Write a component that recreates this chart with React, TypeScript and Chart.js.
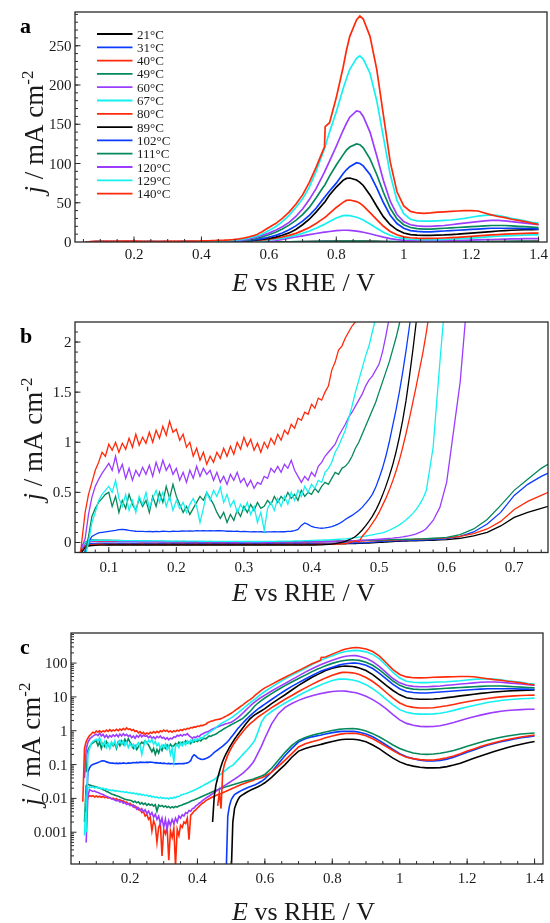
import React, { useEffect, useRef } from "react";
import { Chart, registerables } from "chart.js";

Chart.register(...registerables);

// ---------- legend / series ----------
const LABELS = ["21°C", "31°C", "40°C", "49°C", "60°C", "67°C", "80°C", "89°C", "102°C", "111°C", "120°C", "129°C", "140°C"];
const BLACK = "#000000", BLUE = "#0a3cff", RED = "#ff2a0a", GREEN = "#05885a", PURPLE = "#9b3cff", CYAN = "#16f0f0";
const COLORS = [BLACK, BLUE, RED, GREEN, PURPLE, CYAN, RED, BLACK, BLUE, GREEN, PURPLE, CYAN, RED];

// ---------- potential grids (V vs RHE) ----------
const E_FINE = [
  0.055, 0.06, 0.065, 0.07, 0.075, 0.08, 0.085, 0.09, 0.095, 0.1,
  0.105, 0.11, 0.115, 0.12, 0.125, 0.13, 0.135, 0.14, 0.145, 0.15,
  0.155, 0.16, 0.165, 0.17, 0.175, 0.18, 0.185, 0.19, 0.195, 0.2,
  0.205, 0.21, 0.215, 0.22, 0.225, 0.23, 0.235, 0.24, 0.245, 0.25,
  0.255, 0.26, 0.265, 0.27, 0.275, 0.28, 0.285, 0.29, 0.295, 0.3,
  0.305, 0.31, 0.315, 0.32, 0.325, 0.33, 0.335, 0.34, 0.345, 0.35,
  0.355, 0.36, 0.365, 0.37, 0.375, 0.38, 0.385, 0.39, 0.395, 0.4,
  0.405, 0.41, 0.415, 0.42, 0.425, 0.43, 0.435, 0.44, 0.445, 0.45,
  0.455, 0.46, 0.465, 0.47, 0.475, 0.48, 0.485, 0.49, 0.495, 0.5,
  0.505, 0.51, 0.515, 0.52, 0.525, 0.53, 0.535, 0.54, 0.545, 0.55,
  0.555, 0.56, 0.565,
];
const E_HIGH = [
  0.57, 0.58, 0.59, 0.6, 0.62, 0.64, 0.66, 0.68, 0.7, 0.72, 0.74, 0.76, 0.765, 0.767,
  0.78, 0.8, 0.82, 0.83, 0.84, 0.86, 0.87, 0.88, 0.9, 0.92, 0.94, 0.96, 0.98, 1,
  1.02, 1.04, 1.06, 1.08, 1.1, 1.12, 1.14, 1.16, 1.18, 1.2, 1.22, 1.24, 1.26, 1.28, 1.3, 1.32, 1.34, 1.36, 1.38, 1.4,
];

// ---------- current densities j / mA cm-2 ----------
const j21Low = [
  -0.2, -0.09, -0.04, -0.025, -0.02, -0.018, -0.016, -0.015, -0.015, -0.015,
  -0.015, -0.015, -0.015, -0.015, -0.015, -0.015, -0.015, -0.015, -0.015, -0.015,
  -0.015, -0.015, -0.015, -0.015, -0.015, -0.015, -0.015, -0.015, -0.015, -0.015,
  -0.015, -0.015, -0.015, -0.015, -0.015, -0.015, -0.015, -0.015, -0.015, -0.015,
  -0.015, -0.015, -0.015, -0.015, -0.015, -0.015, -0.015, -0.015, -0.015, -0.015,
  -0.015, -0.015, -0.015, -0.015, -0.015, -0.015, -0.015, -0.015, -0.015, -0.015,
  -0.015, -0.015, -0.015, -0.015, -0.015, -0.015, -0.015, -0.015, -0.015, -0.015,
  -0.015, -0.015, -0.015, -0.015, -0.014, -0.014, -0.014, -0.013, -0.013, -0.013,
  -0.012, -0.011, -0.01, -0.009, -0.008, -0.007, -0.006, -0.004, -0.002, 0.00005,
  0.002, 0.005, 0.007, 0.009, 0.011, 0.012, 0.013, 0.014, 0.015, 0.016,
  0.017, 0.018, 0.019,
];
const j21High = [
  0.02, 0.022, 0.025, 0.029, 0.042, 0.065, 0.1, 0.165, 0.25, 0.3, 0.34, 0.38, 0.39, 0.395,
  0.43, 0.48, 0.53, 0.55, 0.56, 0.56, 0.55, 0.53, 0.47, 0.38, 0.29, 0.21, 0.155, 0.12,
  0.1, 0.09, 0.083, 0.08, 0.08, 0.081, 0.087, 0.097, 0.11, 0.13, 0.155, 0.18, 0.21, 0.245, 0.28, 0.32, 0.36, 0.4, 0.44, 0.48,
];

const j31Low = [
  -0.2, -0.08, -0.03, -0.015, -0.01, -0.008, -0.007, -0.006, -0.006, -0.006,
  -0.006, -0.006, -0.006, -0.006, -0.006, -0.006, -0.006, -0.006, -0.006, -0.006,
  -0.006, -0.006, -0.006, -0.006, -0.006, -0.006, -0.006, -0.006, -0.006, -0.006,
  -0.006, -0.006, -0.006, -0.006, -0.006, -0.006, -0.006, -0.006, -0.006, -0.006,
  -0.006, -0.006, -0.006, -0.006, -0.006, -0.006, -0.006, -0.006, -0.006, -0.006,
  -0.006, -0.006, -0.006, -0.006, -0.006, -0.006, -0.006, -0.006, -0.006, -0.006,
  -0.006, -0.006, -0.006, -0.006, -0.006, -0.006, -0.006, -0.006, -0.006, -0.006,
  -0.006, -0.006, -0.006, -0.006, -0.006, -0.006, -0.006, -0.006, -0.005, -0.005,
  -0.005, -0.005, -0.004, -0.004, -0.003, -0.002, 0.00005, 0.003, 0.006, 0.009,
  0.011, 0.013, 0.014, 0.015, 0.016, 0.017, 0.018, 0.019, 0.02, 0.021,
  0.022, 0.023, 0.024,
];
const j31High = [
  0.025, 0.028, 0.032, 0.038, 0.06, 0.105, 0.185, 0.3, 0.47, 0.58, 0.66, 0.72, 0.74, 0.75,
  0.8, 0.88, 0.94, 0.96, 0.97, 0.96, 0.94, 0.9, 0.8, 0.66, 0.51, 0.38, 0.28, 0.21,
  0.17, 0.15, 0.135, 0.128, 0.127, 0.132, 0.145, 0.165, 0.195, 0.23, 0.27, 0.32, 0.37, 0.42, 0.47, 0.52, 0.57, 0.62, 0.66, 0.7,
];

const j40Low = [
  -0.15, -0.06, -0.01, 0.006, 0.011, 0.012, 0.0115, 0.012, 0.011, 0.0118,
  0.011, 0.0116, 0.0108, 0.0114, 0.0105, 0.011, 0.0102, 0.0106, 0.0098, 0.0102,
  0.0094, 0.0098, 0.0088, 0.0092, 0.0082, 0.0086, 0.0076, 0.0078, 0.0068, 0.0072,
  0.0062, 0.0064, 0.0054, 0.0056, 0.0046, 0.0048, 0.0038, 0.004, 0.003, 0.0034,
  0.0024, 0.0028, 0.0011, 0.0022, 0.0016, 0.0005, 0.0014, 0.0018, 0.0002, 0.0012,
  0.0009, 0.0015, 0.00015, 0.0011, 0.0007, 0.0013, 0.0001, 0.0012, 0.0008, 0.0016,
  0.0014, 0.002, 0.0018, 0.0026, 0.0006, 0.0032, 0.0036, 0.0042, 0.0046, 0.0052,
  0.0058, 0.0066, 0.0072, 0.0078, 0.0086, 0.0092, 0.0098, 0.0104, 0.011, 0.0116,
  0.0122, 0.0128, 0.0134, 0.014, 0.0148, 0.0155, 0.0163, 0.0172, 0.018, 0.019,
  0.02, 0.021, 0.022, 0.0232, 0.0244, 0.0256, 0.0268, 0.028, 0.0292, 0.0304,
  0.0316, 0.0328, 0.034,
];
const j40High = [
  0.036, 0.038, 0.041, 0.045, 0.06, 0.088, 0.135, 0.21, 0.33, 0.41, 0.47, 0.53, 0.55, 0.56,
  0.62, 0.7, 0.78, 0.81, 0.83, 0.84, 0.83, 0.8, 0.71, 0.58, 0.45, 0.34, 0.26, 0.2,
  0.165, 0.15, 0.14, 0.135, 0.137, 0.145, 0.16, 0.18, 0.21, 0.25, 0.29, 0.34, 0.39, 0.44, 0.5, 0.55, 0.6, 0.65, 0.7, 0.74,
];

const j49Low = [
  -0.15, -0.05, 0.002, 0.024, 0.026, 0.025, 0.024, 0.023, 0.0225, 0.022,
  0.021, 0.02, 0.0195, 0.018, 0.0175, 0.016, 0.0155, 0.0145, 0.0135, 0.013,
  0.0125, 0.012, 0.0115, 0.011, 0.0105, 0.01, 0.0095, 0.0092, 0.009, 0.0088,
  0.0085, 0.0078, 0.0082, 0.0074, 0.0079, 0.0068, 0.0075, 0.0066, 0.0072, 0.0062,
  0.0069, 0.0063, 0.0067, 0.0059, 0.0065, 0.0042, 0.0063, 0.0058, 0.0062, 0.0056,
  0.006, 0.0054, 0.0058, 0.0052, 0.0057, 0.0053, 0.0058, 0.0055, 0.006, 0.0062,
  0.0064, 0.0068, 0.007, 0.0074, 0.0077, 0.0082, 0.0086, 0.009, 0.0095, 0.0099,
  0.0104, 0.011, 0.0116, 0.0122, 0.0128, 0.0135, 0.0142, 0.015, 0.0158, 0.0166,
  0.0174, 0.018, 0.0188, 0.0196, 0.0204, 0.0212, 0.022, 0.0228, 0.0236, 0.0245,
  0.0254, 0.0263, 0.0272, 0.0281, 0.029, 0.03, 0.031, 0.032, 0.033, 0.034,
  0.035, 0.036, 0.037,
];
const j49High = [
  0.039, 0.042, 0.046, 0.051, 0.078, 0.135, 0.23, 0.37, 0.52, 0.63, 0.74, 0.82, 0.84, 0.85,
  0.92, 1.02, 1.1, 1.13, 1.15, 1.16, 1.14, 1.1, 0.98, 0.82, 0.65, 0.5, 0.38, 0.3,
  0.25, 0.22, 0.205, 0.2, 0.205, 0.215, 0.235, 0.26, 0.3, 0.35, 0.4, 0.46, 0.52, 0.58, 0.64, 0.7, 0.75, 0.8, 0.83, 0.86,
];

const j60Low = [
  -0.15, -0.06, -0.01, 0.0005, 0.012, 0.018, 0.017, 0.016, 0.0165, 0.0155,
  0.015, 0.0142, 0.0135, 0.013, 0.0122, 0.0115, 0.011, 0.0104, 0.0098, 0.0094,
  0.009, 0.0084, 0.0088, 0.0078, 0.0082, 0.0072, 0.0076, 0.0066, 0.007, 0.0061,
  0.0064, 0.0055, 0.006, 0.0048, 0.0053, 0.0044, 0.005, 0.004, 0.0046, 0.0036,
  0.0042, 0.0032, 0.0038, 0.0028, 0.0034, 0.0024, 0.003, 0.0018, 0.0026, 0.0014,
  0.0024, 0.0012, 0.0022, 0.0016, 0.0024, 0.0018, 0.0026, 0.002, 0.003, 0.0026,
  0.0033, 0.003, 0.0038, 0.0036, 0.0044, 0.0042, 0.005, 0.0052, 0.006, 0.0064,
  0.0072, 0.0078, 0.0086, 0.0094, 0.0102, 0.011, 0.0118, 0.0128, 0.0138, 0.015,
  0.0162, 0.0175, 0.019, 0.0205, 0.022, 0.0238, 0.0255, 0.0275, 0.0295, 0.032,
  0.0345, 0.037, 0.04, 0.043, 0.047, 0.051, 0.056, 0.062, 0.069, 0.077,
  0.087, 0.1, 0.115,
];
const j60High = [
  0.14, 0.22, 0.35, 0.6, 1.6, 3.2, 4.9, 6.4, 7.9, 9.4, 10.8, 12.2, 12.5, 12.6,
  13.4, 14.4, 15, 15, 14.8, 13.8, 13.2, 12.4, 10.5, 8.3, 6.2, 4.4, 3.0, 2.1,
  1.65, 1.45, 1.35, 1.32, 1.33, 1.4, 1.55, 1.75, 2.0, 2.3, 2.6, 2.9, 3.2, 3.5, 3.75, 3.95, 4.1, 4.2, 4.3, 4.3,
];

const j67Low = [
  -0.15, -0.05, 0.0008, 0.012, 0.02, 0.022, 0.021, 0.022, 0.0205, 0.0215,
  0.02, 0.021, 0.019, 0.02, 0.0185, 0.019, 0.0175, 0.018, 0.017, 0.0175,
  0.0165, 0.017, 0.016, 0.0165, 0.0155, 0.016, 0.015, 0.0155, 0.0145, 0.015,
  0.014, 0.0145, 0.0135, 0.014, 0.013, 0.0135, 0.0125, 0.013, 0.012, 0.0125,
  0.0115, 0.012, 0.011, 0.0115, 0.0105, 0.011, 0.0102, 0.0108, 0.01, 0.0105,
  0.0098, 0.0104, 0.0096, 0.0105, 0.0099, 0.0108, 0.0104, 0.0115, 0.0112, 0.0125,
  0.0128, 0.0135, 0.0138, 0.0145, 0.015, 0.016, 0.0165, 0.0175, 0.0182, 0.0195,
  0.0205, 0.022, 0.023, 0.025, 0.0265, 0.028, 0.03, 0.032, 0.034, 0.036,
  0.04, 0.044, 0.048, 0.053, 0.058, 0.064, 0.07, 0.077, 0.084, 0.09,
  0.095, 0.108, 0.122, 0.138, 0.156, 0.176, 0.2, 0.226, 0.256, 0.29,
  0.33, 0.38, 0.44,
];
const j67High = [
  0.52, 0.95, 1.8, 2.6, 3.7, 5.0, 6.6, 8.5, 11, 14, 17.5, 21.5, 22.5, 23,
  26, 30.5, 33.5, 33.8, 33.5, 31.5, 30, 28, 23, 17.5, 12.5, 8.5, 5.8, 4.2,
  3.5, 3.2, 3.1, 3.1, 3.15, 3.3, 3.6, 4, 4.5, 5, 5.6, 6.2, 6.8, 7.3, 7.8, 8.2, 8.5, 8.8, 9, 9.2,
];

const j80Low = [
  -0.2, -0.08, -0.04, -0.026, -0.021, -0.018, -0.02, -0.017, -0.021, -0.018,
  -0.02, -0.017, -0.021, -0.018, -0.02, -0.016, -0.021, -0.018, -0.02, -0.017,
  -0.021, -0.018, -0.02, -0.016, -0.021, -0.018, -0.02, -0.017, -0.021, -0.018,
  -0.02, -0.017, -0.021, -0.018, -0.02, -0.016, -0.021, -0.018, -0.02, -0.017,
  -0.021, -0.018, -0.02, -0.016, -0.021, -0.018, -0.02, -0.017, -0.021, -0.018,
  -0.02, -0.017, -0.021, -0.018, -0.02, -0.016, -0.021, -0.018, -0.02, -0.017,
  -0.021, -0.018, -0.02, -0.016, -0.021, -0.018, -0.02, -0.017, -0.021, -0.018,
  -0.018, -0.02, -0.017, -0.019, -0.016, -0.018, -0.015, -0.016, -0.012, -0.01,
  -0.004, 0.006, 0.015, 0.005, 0.06, 0.1, 0.14, 0.19, 0.24, 0.3,
  0.37, 0.44, 0.52, 0.61, 0.71, 0.82, 0.95, 1.09, 1.24, 1.4,
  1.56, 1.73, 1.9,
];
const j80High = [
  2.1, 2.55, 3.0, 3.5, 4.8, 6.4, 8.5, 11, 14.5, 18.5, 23.5, 29.5, 31, 31.5,
  36.5, 44, 50.5, 53, 53.5, 51.5, 49.5, 46, 37.5, 28.5, 20, 13.5, 9.2, 6.6,
  5.4, 4.9, 4.7, 4.7, 4.8, 5.1, 5.5, 6, 6.6, 7.2, 7.8, 8.4, 9, 9.5, 10, 10.4, 10.7, 11, 11.2, 11.3,
];

const j89Low = [
  -0.25, -0.1, -0.05, -0.035, -0.03, -0.028, -0.027, -0.026, -0.026, -0.025,
  -0.025, -0.025, -0.025, -0.025, -0.025, -0.025, -0.025, -0.025, -0.025, -0.025,
  -0.025, -0.025, -0.025, -0.025, -0.025, -0.025, -0.025, -0.025, -0.025, -0.025,
  -0.025, -0.025, -0.025, -0.025, -0.025, -0.025, -0.025, -0.025, -0.025, -0.025,
  -0.025, -0.025, -0.025, -0.025, -0.025, -0.025, -0.025, -0.025, -0.025, -0.025,
  -0.025, -0.025, -0.025, -0.025, -0.025, -0.025, -0.025, -0.025, -0.025, -0.025,
  -0.025, -0.025, -0.025, -0.025, -0.025, -0.025, -0.025, -0.025, -0.025, -0.025,
  -0.025, -0.024, -0.023, -0.021, -0.019, -0.016, -0.012, -0.004, 0.002, 0.012,
  0.025, 0.04, 0.06, 0.09, 0.125, 0.165, 0.21, 0.26, 0.32, 0.39,
  0.47, 0.56, 0.66, 0.77, 0.9, 1.05, 1.22, 1.42, 1.66, 1.92,
  2.2, 2.45, 2.7,
];
const j89High = [
  2.95, 3.4, 3.9, 4.5, 6.3, 8.6, 11.6, 16, 22, 29, 38, 48, 50.5, 51.5,
  60, 70, 78.5, 81, 81.5, 79, 76, 72, 60, 45.5, 32, 22, 15.5, 11.5,
  9.5, 8.8, 8.5, 8.5, 8.7, 9, 9.5, 10, 10.7, 11.3, 12, 12.7, 13.3, 14, 14.5, 15, 15.3, 15.6, 15.8, 16,
];

const j102Low = [
  -0.3, -0.2, -0.08, 0.004, 0.06, 0.08, 0.095, 0.1, 0.105, 0.11,
  0.115, 0.12, 0.128, 0.13, 0.127, 0.12, 0.116, 0.112, 0.11, 0.11,
  0.108, 0.11, 0.107, 0.11, 0.108, 0.112, 0.11, 0.108, 0.112, 0.11,
  0.112, 0.115, 0.113, 0.116, 0.114, 0.118, 0.116, 0.117, 0.115, 0.118,
  0.116, 0.119, 0.117, 0.115, 0.112, 0.114, 0.11, 0.112, 0.108, 0.11,
  0.108, 0.106, 0.108, 0.105, 0.107, 0.104, 0.106, 0.105, 0.107, 0.106,
  0.108, 0.107, 0.11, 0.112, 0.118, 0.13, 0.17, 0.195, 0.18, 0.16,
  0.15, 0.145, 0.142, 0.145, 0.15, 0.158, 0.17, 0.185, 0.205, 0.23,
  0.25, 0.27, 0.295, 0.32, 0.35, 0.39, 0.43, 0.48, 0.55, 0.64,
  0.74, 0.86, 1.0, 1.16, 1.32, 1.5, 1.7, 1.92, 2.16, 2.42,
  2.7, 3.0, 3.3,
];
const j102High = [
  3.65, 4.4, 5.2, 6.1, 8.4, 11.5, 15.5, 20.5, 26.5, 34, 43, 54, 57, 58,
  65, 75, 87, 92, 96, 101, 100, 97, 86, 69, 50, 34, 23.5, 17.5,
  14.5, 13.5, 13, 13, 13.5, 14, 14.5, 15, 15.5, 16, 16.5, 17, 17.5, 17.5, 17.5, 17.5, 17.5, 17, 17, 16.5,
];

const j111Low = [
  -0.3, -0.22, -0.1, 0.06, 0.26, 0.34, 0.4, 0.44, 0.48, 0.5,
  0.36, 0.46, 0.3, 0.42, 0.34, 0.48, 0.38, 0.32, 0.44, 0.36,
  0.42, 0.3, 0.46, 0.36, 0.5, 0.4, 0.56, 0.44, 0.58, 0.46,
  0.38, 0.3, 0.36, 0.28, 0.34, 0.4, 0.46, 0.42, 0.5, 0.44,
  0.38, 0.3, 0.24, 0.3, 0.2, 0.28, 0.22, 0.32, 0.26, 0.36,
  0.3, 0.38, 0.32, 0.4, 0.34, 0.36, 0.42, 0.38, 0.46, 0.4,
  0.46, 0.42, 0.5, 0.44, 0.48, 0.42, 0.52, 0.46, 0.5, 0.48,
  0.54, 0.5, 0.56, 0.6, 0.58, 0.64, 0.7, 0.68, 0.74, 0.76,
  0.8, 0.86, 0.94, 1.0, 1.08, 1.16, 1.24, 1.32, 1.4, 1.5,
  1.6, 1.7, 1.8, 1.92, 2.04, 2.18, 2.36, 2.6, 2.9, 3.25,
  3.65, 4.1, 4.7,
];
const j111High = [
  5.4, 6.6, 7.9, 9.3, 12.5, 16.5, 21.5, 27.5, 35, 44, 56, 69, 72, 73.5,
  84, 98, 111, 117, 121, 125, 124, 120, 106, 86, 63, 43, 29.5, 22,
  18.5, 17, 16.5, 16.5, 17, 17.5, 18, 18.5, 19, 19.5, 20, 20.5, 21, 21, 21, 20.5, 20, 19.5, 19, 18.5,
];

const j120Low = [
  -0.3, -0.05, 0.04, 0.28, 0.45, 0.56, 0.63, 0.69, 0.74, 0.79,
  0.72, 0.86, 0.7, 0.78, 0.64, 0.74, 0.62, 0.72, 0.66, 0.75,
  0.68, 0.77, 0.66, 0.8, 0.7, 0.82, 0.72, 0.78, 0.68, 0.74,
  0.62, 0.7, 0.6, 0.72, 0.64, 0.76, 0.66, 0.74, 0.68, 0.72,
  0.62, 0.7, 0.6, 0.66, 0.58, 0.68, 0.62, 0.7, 0.6, 0.64,
  0.56, 0.62, 0.54, 0.6, 0.58, 0.66, 0.64, 0.74, 0.7, 0.76,
  0.7, 0.78, 0.74, 0.82, 0.72, 0.66, 0.6, 0.66, 0.62, 0.7,
  0.66, 0.76, 0.8, 0.86, 0.9, 0.94, 0.98, 1.06, 1.12, 1.18,
  1.25, 1.3, 1.36, 1.42, 1.48, 1.56, 1.62, 1.66, 1.72, 1.78,
  1.9, 2.06, 2.24, 2.45, 2.7, 3.0, 3.35, 3.75, 4.2, 4.7,
  5.2, 5.8, 6.4,
];
const j120High = [
  7.0, 8.4, 9.8, 11.3, 15, 19.5, 25, 32.5, 42, 54, 68, 85, 89, 91,
  103, 122, 142, 151, 159, 167, 166, 160, 140, 110, 78, 52, 35, 26,
  22, 20.5, 20, 20, 20.5, 21, 22, 23, 24, 25, 26, 27, 27.5, 27.5, 27, 26, 25, 24, 23, 22,
];

const j129Low = [
  -0.3, -0.25, -0.15, 0.001, 0.2, 0.3, 0.42, 0.48, 0.52, 0.56,
  0.5, 0.62, 0.44, 0.36, 0.48, 0.32, 0.42, 0.3, 0.46, 0.38,
  0.5, 0.34, 0.44, 0.52, 0.4, 0.5, 0.36, 0.46, 0.32, 0.42,
  0.34, 0.4, 0.3, 0.38, 0.44, 0.36, 0.2, 0.34, 0.5, 0.42,
  0.52, 0.46, 0.55, 0.4, 0.48, 0.36, 0.42, 0.3, 0.38, 0.32,
  0.4, 0.28, 0.36, 0.2, 0.3, 0.12, 0.34, 0.4, 0.32, 0.44,
  0.36, 0.46, 0.38, 0.5, 0.42, 0.52, 0.46, 0.56, 0.5, 0.58,
  0.54, 0.62, 0.6, 0.7, 0.74, 0.8, 0.9, 0.96, 1.04, 1.12,
  1.24, 1.36, 1.5, 1.62, 1.74, 1.86, 1.96, 2.1, 2.24, 2.4,
  2.6, 2.85, 3.1, 3.4, 3.75, 4.1, 4.5, 4.95, 5.45, 6.0,
  6.6, 7.2, 7.8,
];
const j129High = [
  8.5, 10.3, 12.3, 14.5, 19.5, 26, 34, 44, 55, 70, 90, 113, 119, 122,
  140, 166, 195, 208, 220, 234, 237, 233, 215, 180, 133, 86, 53, 36,
  29, 27, 26.5, 26.5, 27, 27.5, 28, 29, 30, 31.5, 33, 34, 34.5, 33.5, 32, 30, 28.5, 27, 25, 24,
];

const j140Low = [
  -0.3, 0.008, 0.3, 0.48, 0.6, 0.72, 0.8, 0.9, 0.86, 0.98,
  0.92, 1.0, 0.9, 0.99, 0.93, 1.04, 0.95, 1.08, 0.97, 1.05,
  0.99, 1.1, 1.0, 1.12, 1.04, 1.16, 1.07, 1.21, 1.1, 1.13,
  1.02, 1.08, 0.95, 1.0, 0.86, 0.94, 0.82, 0.9, 0.78, 0.86,
  0.8, 0.9, 0.84, 0.94, 0.86, 0.96, 0.88, 1.0, 0.93, 1.05,
  0.96, 1.03, 0.92, 0.99, 0.9, 1.0, 0.94, 1.04, 0.98, 1.08,
  1.02, 1.12, 1.08, 1.18, 1.14, 1.24, 1.22, 1.3, 1.28, 1.38,
  1.34, 1.44, 1.42, 1.5, 1.56, 1.72, 1.8, 1.92, 1.96, 2.04,
  2.1, 2.16, 2.2, 2.28, 2.4, 2.55, 2.7, 2.88, 3.08, 3.3,
  3.55, 3.85, 4.2, 4.55, 4.95, 5.4, 5.85, 6.4, 7.0, 7.6,
  8.2, 8.9, 9.6,
];
const j140High = [
  11, 13.2, 15.8, 18.5, 23.5, 30, 38, 48, 60, 76, 95, 116, 121, 147,
  152, 184, 222, 244, 262, 283, 288, 284, 262, 220, 161, 102, 64, 46,
  39, 37, 36.5, 37, 38, 38.5, 39, 39.5, 40, 40, 39.5, 37, 34.5, 32.5, 31, 29, 27.5, 26, 24, 22.5,
];

const SERIES_LOW = [j21Low, j31Low, j40Low, j49Low, j60Low, j67Low, j80Low, j89Low, j102Low, j111Low, j120Low, j129Low, j140Low];
const SERIES_HIGH = [j21High, j31High, j40High, j49High, j60High, j67High, j80High, j89High, j102High, j111High, j120High, j129High, j140High];

// ---------- tick labels ----------
const X_TICKS_AC = [0.2, 0.4, 0.6, 0.8, 1, 1.2, 1.4];
const X_LABELS_AC = ["0.2", "0.4", "0.6", "0.8", "1", "1.2", "1.4"];
const Y_TICKS_A = [0, 50, 100, 150, 200, 250];
const Y_LABELS_A = ["0", "50", "100", "150", "200", "250"];
const X_TICKS_B = [0.1, 0.2, 0.3, 0.4, 0.5, 0.6, 0.7];
const X_LABELS_B = ["0.1", "0.2", "0.3", "0.4", "0.5", "0.6", "0.7"];
const Y_TICKS_B = [0, 0.5, 1, 1.5, 2];
const Y_LABELS_B = ["0", "0.5", "1", "1.5", "2"];
const Y_TICKS_C = [0.001, 0.01, 0.1, 1, 10, 100];
const Y_LABELS_C = ["0.001", "0.01", "0.1", "1", "10", "100"];

// ---------- helpers ----------
function steps(a: number, b: number, step: number): number[] {
  const out: number[] = [];
  for (let k = 0; ; k++) {
    const v = +(a + k * step).toFixed(6);
    if (v > b + 1e-9) break;
    out.push(v);
  }
  return out;
}
function logMinor(lo: number, hi: number): number[] {
  const out: number[] = [];
  for (let e = -5; e <= 3; e++) {
    for (let m = 2; m <= 9; m++) {
      const v = m * Math.pow(10, e);
      if (v > lo && v < hi) out.push(v);
    }
  }
  return out;
}

const SERIF = '"Liberation Serif", "Times New Roman", serif';
const AXIS = "#2a2a2a";
const TEXT = "#1a1a1a";

type Panel = {
  key: string;
  letter: string;
  area: { left: number; top: number; right: number; bottom: number };
  xMin: number; xMax: number;
  yMin: number; yMax: number;
  log: boolean;
  lineWidth: number;
  xTicks: number[]; xLabels: string[]; xMinor: number[];
  yTicks: number[]; yLabels: string[]; yMinor: number[];
  xLabelBase: number;
  xTitleBase: number;
  yTitleX: number; yTitleCY: number;
  letterBase: number;
  legend: boolean;
};

const PANELS: Panel[] = [
  {
    key: "a", letter: "a",
    area: { left: 75, top: 12, right: 547, bottom: 242 },
    xMin: 0.025, xMax: 1.425, yMin: 0, yMax: 293, log: false, lineWidth: 1.7,
    xTicks: X_TICKS_AC, xLabels: X_LABELS_AC, xMinor: steps(0.05, 1.4, 0.05),
    yTicks: Y_TICKS_A, yLabels: Y_LABELS_A, yMinor: steps(0, 290, 10),
    xLabelBase: 258.5, xTitleBase: 291, yTitleX: 43, yTitleCY: 132, letterBase: 33, legend: true,
  },
  {
    key: "b", letter: "b",
    area: { left: 75, top: 322, right: 548, bottom: 552.5 },
    xMin: 0.05, xMax: 0.75, yMin: -0.1, yMax: 2.2, log: false, lineWidth: 1.3,
    xTicks: X_TICKS_B, xLabels: X_LABELS_B, xMinor: steps(0.06, 0.74, 0.02),
    yTicks: Y_TICKS_B, yLabels: Y_LABELS_B, yMinor: steps(-0.1, 2.2, 0.1),
    xLabelBase: 571.5, xTitleBase: 601, yTitleX: 41.5, yTitleCY: 439, letterBase: 342.5, legend: false,
  },
  {
    key: "c", letter: "c",
    area: { left: 71, top: 633, right: 543, bottom: 864 },
    xMin: 0.025, xMax: 1.425, yMin: 1.15e-4, yMax: 775, log: true, lineWidth: 1.6,
    xTicks: X_TICKS_AC, xLabels: X_LABELS_AC, xMinor: steps(0.05, 1.4, 0.05),
    yTicks: Y_TICKS_C, yLabels: Y_LABELS_C, yMinor: logMinor(1.15e-4, 775),
    xLabelBase: 882.5, xTitleBase: 920, yTitleX: 40, yTitleCY: 744, letterBase: 654, legend: false,
  },
];

function drawRich(ctx: CanvasRenderingContext2D, parts: { t: string; f: string; dy?: number }[], cx: number, base: number) {
  let total = 0;
  const widths = parts.map((p) => {
    ctx.font = p.f;
    const w = ctx.measureText(p.t).width;
    total += w;
    return w;
  });
  let x = cx - total / 2;
  ctx.textAlign = "left";
  ctx.textBaseline = "alphabetic";
  parts.forEach((p, i) => {
    ctx.font = p.f;
    ctx.fillText(p.t, x, base + (p.dy || 0));
    x += widths[i];
  });
}

function makeDecor(p: Panel) {
  return {
    id: "decor_" + p.key,
    afterDraw(chart: any) {
      const { ctx, chartArea: ca, scales } = chart;
      const xs = scales.x, ys = scales.y;
      ctx.save();
      // frame
      ctx.strokeStyle = AXIS;
      ctx.lineWidth = 1.3;
      ctx.strokeRect(ca.left, ca.top, ca.right - ca.left, ca.bottom - ca.top);
      // inward ticks
      ctx.lineWidth = 1;
      ctx.beginPath();
      const xTick = (v: number, len: number) => {
        const px = xs.getPixelForValue(v);
        if (px < ca.left + 0.5 || px > ca.right - 0.5) return;
        ctx.moveTo(px, ca.bottom);
        ctx.lineTo(px, ca.bottom - len);
      };
      const yTick = (v: number, len: number) => {
        const py = ys.getPixelForValue(v);
        if (py < ca.top + 0.5 || py > ca.bottom - 0.5) return;
        ctx.moveTo(ca.left, py);
        ctx.lineTo(ca.left + len, py);
      };
      p.xMinor.forEach((v) => xTick(v, 3));
      p.xTicks.forEach((v) => xTick(v, 5.5));
      p.yMinor.forEach((v) => yTick(v, 3));
      p.yTicks.forEach((v) => yTick(v, 5.5));
      ctx.stroke();

      // tick labels
      ctx.fillStyle = TEXT;
      ctx.font = `15px ${SERIF}`;
      ctx.textBaseline = "alphabetic";
      ctx.textAlign = "center";
      p.xTicks.forEach((v, i) => ctx.fillText(p.xLabels[i], xs.getPixelForValue(v), p.xLabelBase));
      ctx.textAlign = "right";
      p.yTicks.forEach((v, i) => ctx.fillText(p.yLabels[i], ca.left - 3.5, ys.getPixelForValue(v) + 5));

      // x title
      drawRich(ctx, [
        { t: "E", f: `italic 26px ${SERIF}` },
        { t: " vs RHE / V", f: `26px ${SERIF}` },
      ], 303.5, p.xTitleBase);

      // y title (rotated)
      ctx.save();
      ctx.translate(p.yTitleX, p.yTitleCY);
      ctx.rotate(-Math.PI / 2);
      drawRich(ctx, [
        { t: "j", f: `italic 27px ${SERIF}` },
        { t: " / mA cm", f: `27px ${SERIF}` },
        { t: "-2", f: `17px ${SERIF}`, dy: -10 },
      ], 0, 0);
      ctx.restore();

      // panel letter
      ctx.font = `bold 22px ${SERIF}`;
      ctx.textAlign = "left";
      ctx.fillStyle = "#000";
      ctx.fillText(p.letter, 20, p.letterBase);

      // legend
      if (p.legend) {
        ctx.font = `13px ${SERIF}`;
        ctx.textAlign = "left";
        LABELS.forEach((lab, i) => {
          const y = 34 + 13.3 * i;
          ctx.strokeStyle = COLORS[i];
          ctx.lineWidth = 1.8;
          ctx.beginPath();
          ctx.moveTo(97, y);
          ctx.lineTo(132.5, y);
          ctx.stroke();
          ctx.fillStyle = TEXT;
          ctx.fillText(lab, 137, y + 4.5);
        });
      }
      ctx.restore();
    },
  };
}

function buildDatasets(lineWidth: number) {
  const E_ALL = [...E_FINE, ...E_HIGH];
  const sets: any[] = [];
  for (let s = LABELS.length - 1; s >= 0; s--) {
    const vals = [...SERIES_LOW[s], ...SERIES_HIGH[s]];
    sets.push({
      label: LABELS[s],
      data: E_ALL.map((x, i) => ({ x, y: vals[i] })),
      borderColor: COLORS[s],
      backgroundColor: COLORS[s],
      borderWidth: lineWidth,
      pointRadius: 0,
      tension: 0,
      fill: false,
    });
  }
  return sets;
}

function PanelChart({ p }: { p: Panel }) {
  const ref = useRef<HTMLCanvasElement | null>(null);
  useEffect(() => {
    if (!ref.current) return;
    const chart = new Chart(ref.current, {
      type: "line",
      data: { datasets: buildDatasets(p.lineWidth) },
      options: {
        animation: false,
        responsive: false,
        events: [],
        layout: {
          padding: {
            left: p.area.left,
            top: p.area.top,
            right: 550 - p.area.right,
            bottom: 923 - p.area.bottom,
          },
        },
        plugins: { legend: { display: false }, tooltip: { enabled: false } },
        scales: {
          x: { type: "linear", min: p.xMin, max: p.xMax, display: false },
          y: { type: p.log ? "logarithmic" : "linear", min: p.yMin, max: p.yMax, display: false },
        },
      },
      plugins: [makeDecor(p)],
    } as any);
    return () => chart.destroy();
  }, []);
  return (
    <canvas
      ref={ref}
      width={550}
      height={923}
      style={{ position: "absolute", left: 0, top: 0, width: 550, height: 923 }}
    />
  );
}

export default function App() {
  return (
    <div style={{ position: "absolute", left: 0, top: 0, width: 550, height: 923, background: "#ffffff", overflow: "hidden" }}>
      {PANELS.map((p) => (
        <PanelChart key={p.key} p={p} />
      ))}
    </div>
  );
}
